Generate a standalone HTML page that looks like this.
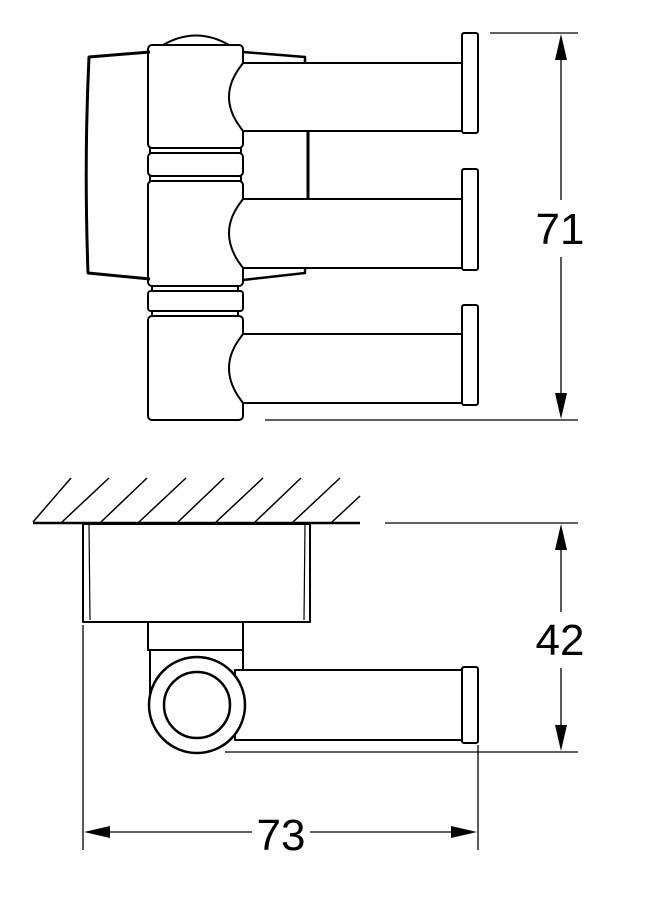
<!DOCTYPE html>
<html><head><style>html,body{margin:0;padding:0;background:#fff}svg{display:block}</style></head>
<body>
<svg width="650" height="900" viewBox="0 0 650 900" xmlns="http://www.w3.org/2000/svg" fill="none" stroke="#000" stroke-width="2" stroke-linejoin="round">
<!-- TOP VIEW -->
<path d="M150,52 L89,57 Q84,160 88,273 L150,279" stroke-width="3"/>
<path d="M243,52 L305,57 L305,63" stroke-width="2.5"/>
<path d="M243,280 L305,273 L305,268" stroke-width="2.5"/>
<line x1="308" y1="131" x2="308" y2="199" stroke-width="3"/>
<path d="M163,45 Q196,26 229,45"/>
<rect x="148" y="45" width="95" height="103" rx="4"/>
<path d="M150,148 L241,148 L241,153 L150,153 Z"/>
<rect x="148" y="153" width="95" height="23" rx="4"/>
<path d="M150,176 L241,176 L241,181 L150,181 Z"/>
<rect x="148" y="181" width="95" height="105" rx="4"/>
<path d="M152,286 L238,286 L238,291 L152,291 Z"/>
<rect x="148" y="291" width="95" height="20" rx="3"/>
<path d="M152,311 L238,311 L238,316 L152,316 Z"/>
<rect x="148" y="316" width="95" height="104" rx="4"/>
<g fill="#fff">
<path d="M243,63 L462,63 L462,131 L243,131 L238,124 Q220,97 238,70 Z"/>
<path d="M243,199 L462,199 L462,268 L243,268 L238,261 Q220,233 238,206 Z"/>
<path d="M243,334 L462,334 L462,403 L243,403 L238,396 Q220,368 238,341 Z"/>
<rect x="462" y="33" width="16" height="100" rx="2"/>
<rect x="462" y="169" width="16" height="101" rx="2"/>
<rect x="462" y="305" width="16" height="100" rx="2"/>
</g>
<g stroke-width="1.3">
<line x1="490" y1="33" x2="578" y2="33"/>
<line x1="265" y1="420" x2="578" y2="420"/>
<line x1="561" y1="50" x2="561" y2="200"/>
<line x1="561" y1="257" x2="561" y2="403"/>
</g>
<path d="M561,34 L555,60 L567,60 Z M561,419 L555,393 L567,393 Z" fill="#000" stroke="none"/>
<text x="560" y="244" font-family="Liberation Sans, sans-serif" font-size="44" text-anchor="middle" fill="#000" stroke="none">71</text>

<!-- BOTTOM VIEW -->
<g stroke-width="1.5">
<line x1="33" y1="523" x2="360" y2="523" stroke-width="2.5"/>
<line x1="33" y1="522" x2="71" y2="478"/>
<line x1="62" y1="522" x2="109" y2="478"/>
<line x1="101" y1="522" x2="147" y2="478"/>
<line x1="139" y1="522" x2="186" y2="478"/>
<line x1="178" y1="522" x2="224" y2="478"/>
<line x1="216" y1="522" x2="263" y2="478"/>
<line x1="255" y1="522" x2="301" y2="478"/>
<line x1="293" y1="522" x2="340" y2="478"/>
<line x1="332" y1="522" x2="360" y2="496"/>
</g>
<rect x="83" y="524" width="227" height="98"/>
<line x1="89" y1="524" x2="90" y2="620" stroke-width="1.2"/>
<line x1="305" y1="524" x2="304" y2="620" stroke-width="1.2"/>
<rect x="148" y="622" width="95" height="28"/>
<path d="M150,650 L243,650 L243,672"/>
<line x1="150" y1="650" x2="150" y2="705"/>
<rect x="235" y="670" width="227" height="70" fill="#fff"/>
<rect x="462" y="667" width="16" height="76" rx="2" fill="#fff"/>
<circle cx="197" cy="705" r="48" fill="#fff" stroke-width="2.5"/>
<circle cx="197" cy="705" r="33" stroke-width="2.5"/>
<g stroke-width="1.3">
<line x1="385" y1="523" x2="578" y2="523"/>
<line x1="225" y1="752" x2="578" y2="752"/>
<line x1="561" y1="540" x2="561" y2="612"/>
<line x1="561" y1="668" x2="561" y2="735"/>
<line x1="83" y1="625" x2="83" y2="850"/>
<line x1="478" y1="745" x2="478" y2="850"/>
<line x1="100" y1="832" x2="252" y2="832"/>
<line x1="310" y1="832" x2="462" y2="832"/>
</g>
<path d="M561,524 L555,550 L567,550 Z M561,751 L555,725 L567,725 Z M84,832 L110,826 L110,838 Z M477,832 L451,826 L451,838 Z" fill="#000" stroke="none"/>
<text x="560" y="655" font-family="Liberation Sans, sans-serif" font-size="44" text-anchor="middle" fill="#000" stroke="none">42</text>
<text x="281" y="850" font-family="Liberation Sans, sans-serif" font-size="44" text-anchor="middle" fill="#000" stroke="none">73</text>
</svg>
</body></html>
